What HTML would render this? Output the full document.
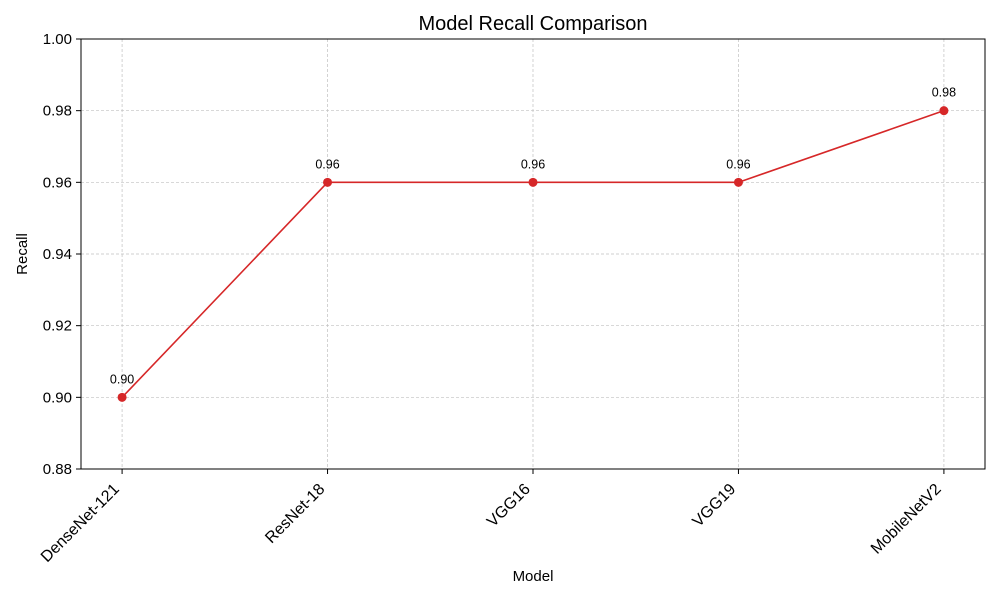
<!DOCTYPE html>
<html><head><meta charset="utf-8"><style>
body{margin:0;background:#fff;}
svg text{font-family:"Liberation Sans",sans-serif;fill:#000;}
</style></head><body>
<svg id="chart" width="1000" height="600" xmlns="http://www.w3.org/2000/svg">
<text x="533" y="30" font-size="20" text-anchor="middle">Model Recall Comparison</text>
<text x="533" y="581" font-size="15" text-anchor="middle">Model</text>
<text x="27" y="254" font-size="15" text-anchor="middle" transform="rotate(-90 27 254)">Recall</text>
<g id="grid"></g><g id="axes"></g><g id="marks"></g>
</svg>
<script>
const categories=["DenseNet-121","ResNet-18","VGG16","VGG19","MobileNetV2"];
const recall=[0.90,0.96,0.96,0.96,0.98];
const valueLabels=["0.90","0.96","0.96","0.96","0.98"];
const yTicks=[0.88,0.90,0.92,0.94,0.96,0.98,1.00];
const yTickLabels=["0.88","0.90","0.92","0.94","0.96","0.98","1.00"];
const L=81,R=985,T=39,B=469;
const xs=i=>L+(i+0.2)/4.4*(R-L);
const ys=v=>B-(v-0.88)/0.12*(B-T);
const NS="http://www.w3.org/2000/svg";
function mk(tag,attrs,parent){const e=document.createElementNS(NS,tag);for(const k in attrs)e.setAttribute(k,attrs[k]);document.getElementById(parent).appendChild(e);return e;}
yTicks.forEach((v,i)=>{
  const g=mk('line',{x1:L,x2:R,y1:ys(v),y2:ys(v),stroke:'#c0c0c0','stroke-width':0.7,'stroke-dasharray':'3,2'},'grid');
  
  
  const t=mk('line',{x1:L-5,x2:L,y1:ys(v),y2:ys(v),stroke:'#000'},'axes');
  
  
  const tx=mk('text',{x:L-9,y:ys(v)+5,'font-size':15,'text-anchor':'end'},'axes');
  tx.textContent=yTickLabels[i];
  
  
});
categories.forEach((c,i)=>{
  const x=xs(i);
  const g=mk('line',{x1:x,x2:x,y1:T,y2:B,stroke:'#c0c0c0','stroke-width':0.7,'stroke-dasharray':'3,2'},'grid');
  
  
  const t=mk('line',{x1:x,x2:x,y1:B,y2:B+5,stroke:'#000'},'axes');
  
  
  const ax=x-2,ay=B+21;
  const tx=mk('text',{x:ax,y:ay,'font-size':16,'text-anchor':'end',transform:`rotate(-45 ${ax} ${ay})`},'axes');
  tx.textContent=c;
  
  
});
const fr=mk('rect',{x:L,y:T,width:R-L,height:B-T,fill:'none',stroke:'#000','stroke-width':1},'axes');


const pl=mk('polyline',{points:recall.map((v,i)=>xs(i)+','+ys(v)).join(' '),fill:'none',stroke:'#d62728','stroke-width':1.6},'marks');


recall.forEach((v,i)=>{
  const c=mk('circle',{cx:xs(i),cy:ys(v),r:4.5,fill:'#d62728'},'marks');
  
  
  const t=mk('text',{x:xs(i),y:ys(v)-14,'font-size':12.5,'text-anchor':'middle'},'marks');
  t.textContent=valueLabels[i];
  
  
});
</script>
</body></html>
